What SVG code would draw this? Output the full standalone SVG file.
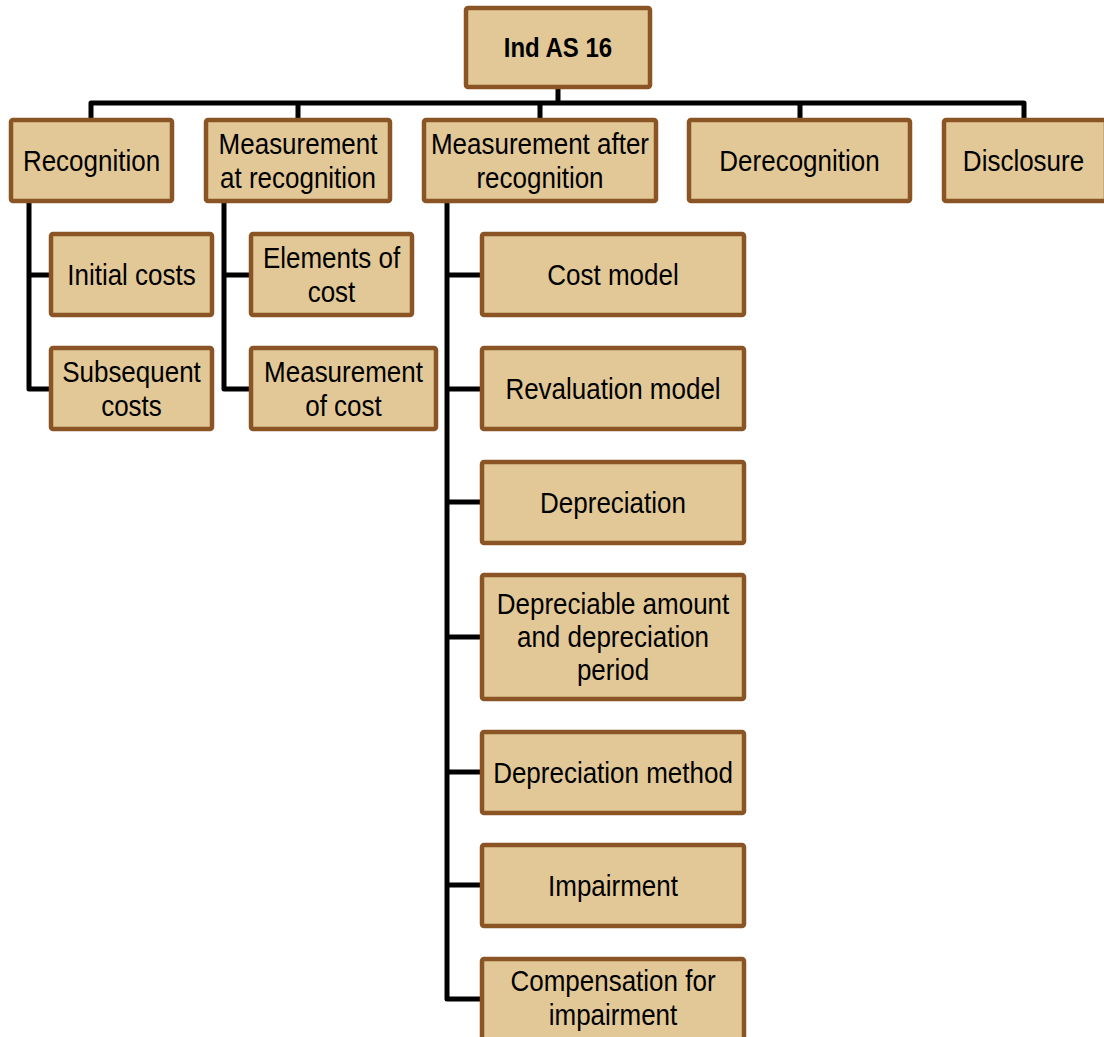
<svg xmlns="http://www.w3.org/2000/svg" width="1104" height="1037" viewBox="0 0 1104 1037">
<style>
.box{fill:#E2C897;stroke:#8B5424;stroke-width:4.5}
.t{font-family:"Liberation Sans",Arial,sans-serif;font-size:26px;text-anchor:middle;fill:#000}
.b{font-weight:bold;font-size:24px}
.ln{fill:none;stroke:#000;stroke-width:5;stroke-linejoin:round}
</style>
<rect width="1104" height="1037" fill="#fff"/>
<g id="connectors">
<path class="ln" d="M558 87V103M91 120V103H1024V120M298 103V120M540 103V120M800 103V120"/>
<path class="ln" d="M29 201V389H51M29 275H51"/>
<path class="ln" d="M224 201V389H251M224 275H251"/>
<path class="ln" d="M447 201V999H482M447 275H482M447 389H482M447 502H482M447 637H482M447 772H482M447 885H482"/>
</g>
<g id="root"><rect class="box" x="466" y="8" width="184" height="79" rx="2"/><text class="t b" transform="translate(558,57) scale(1,1.14)">Ind AS 16</text></g>
<g id="recognition"><rect class="box" x="11" y="120" width="161" height="81" rx="2"/><text class="t" transform="translate(91.5,171) scale(1,1.14)">Recognition</text></g>
<g id="measurement-at-recognition"><rect class="box" x="206" y="120" width="184" height="81" rx="2"/><text class="t" transform="translate(298,154) scale(1,1.14)"><tspan x="0" y="0">Measurement</tspan><tspan x="0" y="29.8">at recognition</tspan></text></g>
<g id="measurement-after-recognition"><rect class="box" x="424" y="120" width="232" height="81" rx="2"/><text class="t" transform="translate(540,154) scale(1,1.14)"><tspan x="0" y="0">Measurement after</tspan><tspan x="0" y="29.8">recognition</tspan></text></g>
<g id="derecognition"><rect class="box" x="689" y="120" width="221" height="81" rx="2"/><text class="t" transform="translate(799.5,171) scale(1,1.14)">Derecognition</text></g>
<g id="disclosure"><rect class="box" x="944" y="120" width="162" height="81" rx="2"/><text class="t" transform="translate(1023.5,171) scale(1,1.14)">Disclosure</text></g>
<g id="initial-costs"><rect class="box" x="51" y="234" width="161" height="81" rx="2"/><text class="t" transform="translate(131.5,285) scale(1,1.14)">Initial costs</text></g>
<g id="subsequent-costs"><rect class="box" x="51" y="348" width="161" height="81" rx="2"/><text class="t" transform="translate(131.5,382) scale(1,1.14)"><tspan x="0" y="0">Subsequent</tspan><tspan x="0" y="29.8">costs</tspan></text></g>
<g id="elements-of-cost"><rect class="box" x="251" y="234" width="161" height="81" rx="2"/><text class="t" transform="translate(331.5,268) scale(1,1.14)"><tspan x="0" y="0">Elements of</tspan><tspan x="0" y="29.8">cost</tspan></text></g>
<g id="measurement-of-cost"><rect class="box" x="251" y="348" width="185" height="81" rx="2"/><text class="t" transform="translate(343.5,382) scale(1,1.14)"><tspan x="0" y="0">Measurement</tspan><tspan x="0" y="29.8">of cost</tspan></text></g>
<g id="cost-model"><rect class="box" x="482" y="234" width="262" height="81" rx="2"/><text class="t" transform="translate(613,285) scale(1,1.14)">Cost model</text></g>
<g id="revaluation-model"><rect class="box" x="482" y="348" width="262" height="81" rx="2"/><text class="t" transform="translate(613,399) scale(1,1.14)">Revaluation model</text></g>
<g id="depreciation"><rect class="box" x="482" y="462" width="262" height="81" rx="2"/><text class="t" transform="translate(613,513) scale(1,1.14)">Depreciation</text></g>
<g id="depreciable-amount"><rect class="box" x="482" y="575" width="262" height="124" rx="2"/><text class="t" transform="translate(613,614) scale(1,1.14)"><tspan x="0" y="0">Depreciable amount</tspan><tspan x="0" y="28.9">and depreciation</tspan><tspan x="0" y="57.8">period</tspan></text></g>
<g id="depreciation-method"><rect class="box" x="482" y="732" width="262" height="81" rx="2"/><text class="t" transform="translate(613,783) scale(1,1.14)">Depreciation method</text></g>
<g id="impairment"><rect class="box" x="482" y="845" width="262" height="81" rx="2"/><text class="t" transform="translate(613,896) scale(1,1.14)">Impairment</text></g>
<g id="compensation-for-impairment"><rect class="box" x="482" y="959" width="262" height="100" rx="2"/><text class="t" transform="translate(613,991) scale(1,1.14)"><tspan x="0" y="0">Compensation for</tspan><tspan x="0" y="29.8">impairment</tspan></text></g>
</svg>
